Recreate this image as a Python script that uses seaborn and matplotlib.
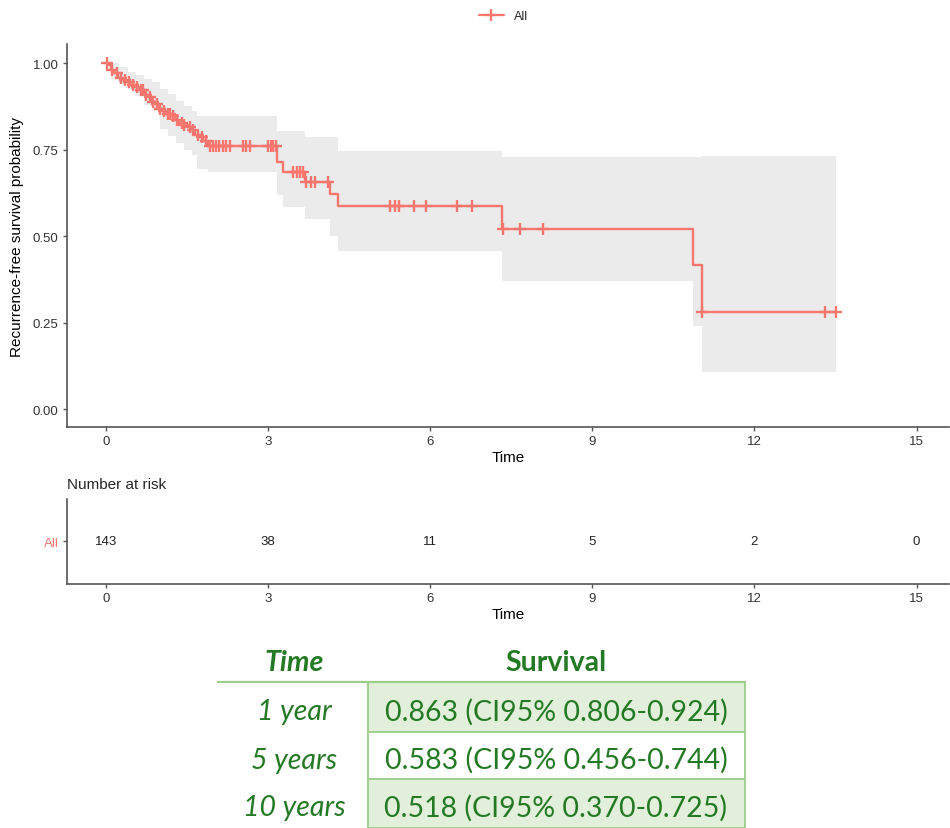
import numpy as np
import pandas as pd
import matplotlib
matplotlib.use("Agg")
import matplotlib.pyplot as plt
from matplotlib.lines import Line2D
from matplotlib.patches import Rectangle
import seaborn as sns

# ------------------------------------
# DATA
# ------------------------------------

# Kaplan-Meier steps: time of event, survival after the step
step_time = [0.0, 0.05, 0.10, 0.15, 0.22, 0.30, 0.38, 0.45, 0.55, 0.62, 0.70,
             0.78, 0.85, 0.92, 0.98, 1.05, 1.12, 1.20, 1.28, 1.35, 1.42,
             1.50, 1.58, 1.65, 1.72, 1.80, 1.88, 3.16, 3.27, 3.68, 4.14,
             4.30, 7.32, 10.86, 11.02, 13.51]
step_surv = [1.0, 0.993, 0.979, 0.972, 0.958, 0.951, 0.944, 0.937, 0.930, 0.923,
             0.909, 0.902, 0.888, 0.881, 0.866, 0.860, 0.853, 0.846, 0.835,
             0.828, 0.821, 0.814, 0.807, 0.793, 0.786, 0.775, 0.761, 0.713,
             0.684, 0.655, 0.621, 0.586, 0.520, 0.416, 0.279, 0.279]

# confidence band (steps)
ci_time = [0.0, 0.10, 0.25, 0.40, 0.55, 0.70, 0.85, 1.00, 1.15, 1.30, 1.45,
           1.60, 1.68, 1.88, 3.16, 3.27, 3.68, 4.14, 4.30, 7.32, 10.86,
           11.02, 13.51]
ci_upper = [1.0, 1.0, 0.99, 0.975, 0.965, 0.955, 0.945, 0.924, 0.91, 0.89,
            0.875, 0.86, 0.848, 0.848, 0.804, 0.804, 0.785, 0.785, 0.745,
            0.727, 0.727, 0.732, 0.732]
ci_lower = [1.0, 0.955, 0.94, 0.925, 0.905, 0.88, 0.86, 0.81, 0.79, 0.77,
            0.75, 0.735, 0.694, 0.684, 0.62, 0.583, 0.549, 0.50, 0.456,
            0.370, 0.241, 0.106, 0.106]

# censored observations
censor_time = [0.02, 0.12, 0.20, 0.28, 0.35, 0.42, 0.50, 0.58, 0.65, 0.68,
               0.75, 0.82, 0.88, 0.95, 1.00, 1.08, 1.15, 1.18, 1.25, 1.32,
               1.40, 1.45, 1.55, 1.62, 1.70, 1.78, 1.85, 1.92, 1.98, 2.04,
               2.10, 2.17, 2.23, 2.29, 2.54, 2.60, 2.66, 3.00, 3.05, 3.09,
               3.14, 3.47, 3.53, 3.59, 3.65, 3.71, 3.80, 3.87, 4.11, 5.25,
               5.35, 5.42, 5.70, 5.93, 6.50, 6.78, 7.34, 7.67, 8.09, 11.02,
               13.30, 13.50]

risk_times = [0, 3, 6, 9, 12, 15]
risk_counts = [143, 38, 11, 5, 2, 0]

table_rows = ["1 year", "5 years", "10 years"]
table_values = ["0.863 (CI95% 0.806-0.924)",
                "0.583 (CI95% 0.456-0.744)",
                "0.518 (CI95% 0.370-0.725)"]

RED = "#F8766D"
GREEN = "#247A24"

# ------------------------------------
# FIGURE
# ------------------------------------

sns.set_style("white")
plt.rcParams["font.family"] = ["Liberation Sans", "DejaVu Sans"]

fig = plt.figure(figsize=(9.5, 8.29), dpi=100)

ax = fig.add_axes([0.0705, 0.4837, 0.9285, 0.462])

curve = pd.DataFrame({"time": step_time, "surv": step_surv})
band = pd.DataFrame({"time": ci_time, "lower": ci_lower, "upper": ci_upper})

ax.fill_between(band["time"], band["lower"], band["upper"], step="post",
                color="#EBEBEB", linewidth=0)
sns.lineplot(data=curve, x="time", y="surv", ax=ax, color=RED,
             drawstyle="steps-post", estimator=None, linewidth=1.7)

# censor marks sit on the curve
idx = np.searchsorted(step_time, censor_time, side="right") - 1
censor = pd.DataFrame({"time": censor_time,
                       "surv": [step_surv[i] for i in idx]})
sns.scatterplot(data=censor, x="time", y="surv", ax=ax, marker="+",
                color=RED, s=65, linewidth=1.7)

ax.set_xlim(-0.72, 15.6)
ax.set_ylim(-0.052, 1.055)
ax.set_xticks(risk_times)
ax.set_yticks([0, 0.25, 0.5, 0.75, 1.0])
ax.set_yticklabels(["0.00", "0.25", "0.50", "0.75", "1.00"])
ax.set_xlabel("Time", fontsize=11, color="black", labelpad=2)
ax.set_ylabel("Recurrence-free survival probability", fontsize=11,
              color="black", labelpad=6)
sns.despine(ax=ax)

fig.legend(handles=[Line2D([0], [0], color=RED, marker="+", markersize=8,
                           markeredgewidth=1.6, linewidth=1.6)],
           labels=["All"], loc="upper center", bbox_to_anchor=(0.53, 1.0),
           frameon=False, fontsize=9, handlelength=2)

# ------------------------------------
# RISK TABLE
# ------------------------------------

ax2 = fig.add_axes([0.0705, 0.2943, 0.9285, 0.1026])
for t, n in zip(risk_times, risk_counts):
    ax2.text(t, 0, str(n), ha="center", va="center", fontsize=9.5,
             color="#222222")
ax2.set_xlim(-0.72, 15.6)
ax2.set_ylim(-1, 1)
ax2.set_xticks(risk_times)
ax2.set_yticks([0])
ax2.set_yticklabels(["All"])
ax2.set_xlabel("Time", fontsize=11, color="black", labelpad=2)
ax2.set_title("Number at risk", loc="left", fontsize=11, pad=8)
sns.despine(ax=ax2)

for a in [ax, ax2]:
    for s in ["left", "bottom"]:
        a.spines[s].set_color("#555555")
        a.spines[s].set_linewidth(1.2)
    a.tick_params(axis="both", direction="out", length=3, width=1,
                  color="#555555", labelsize=9.5, labelcolor="#333333",
                  pad=3, bottom=True, left=True)
ax2.get_yticklabels()[0].set_color(RED)

# ------------------------------------
# SURVIVAL SUMMARY TABLE
# ------------------------------------

tab = fig.add_axes([0, 0, 1, 1], zorder=-1)
tab.set_xlim(0, 950)
tab.set_ylim(829, 0)
tab.axis("off")

row_top = [683, 733, 780]
row_h = [50, 47, 49]
fills = ["#E2EFDA", "white", "#E2EFDA"]
for y0, h, fc in zip(row_top, row_h, fills):
    tab.add_patch(Rectangle((368, y0), 377, h, facecolor=fc,
                            edgecolor="#9BCF8A", linewidth=1.3))
tab.plot([218, 745], [683, 683], color="#9BCF8A", linewidth=1.6)

tfont = ["Lato", "DejaVu Sans"]
tab.text(294, 663, "Time", ha="center", va="center", fontsize=20.5,
         fontweight="bold", fontstyle="italic", color=GREEN, family=tfont)
tab.text(556, 663, "Survival", ha="center", va="center", fontsize=20.5,
         fontweight="bold", color=GREEN, family=tfont)
for y0, h, lab, val in zip(row_top, row_h, table_rows, table_values):
    tab.text(294, y0 + h / 2 + 4, lab, ha="center", va="center",
             fontsize=20.5, fontstyle="italic", color=GREEN, family=tfont)
    tab.text(556, y0 + h / 2 + 4, val, ha="center", va="center",
             fontsize=20.5, color=GREEN, family=tfont)

fig.savefig("out.png", dpi=100)
plt.close()
